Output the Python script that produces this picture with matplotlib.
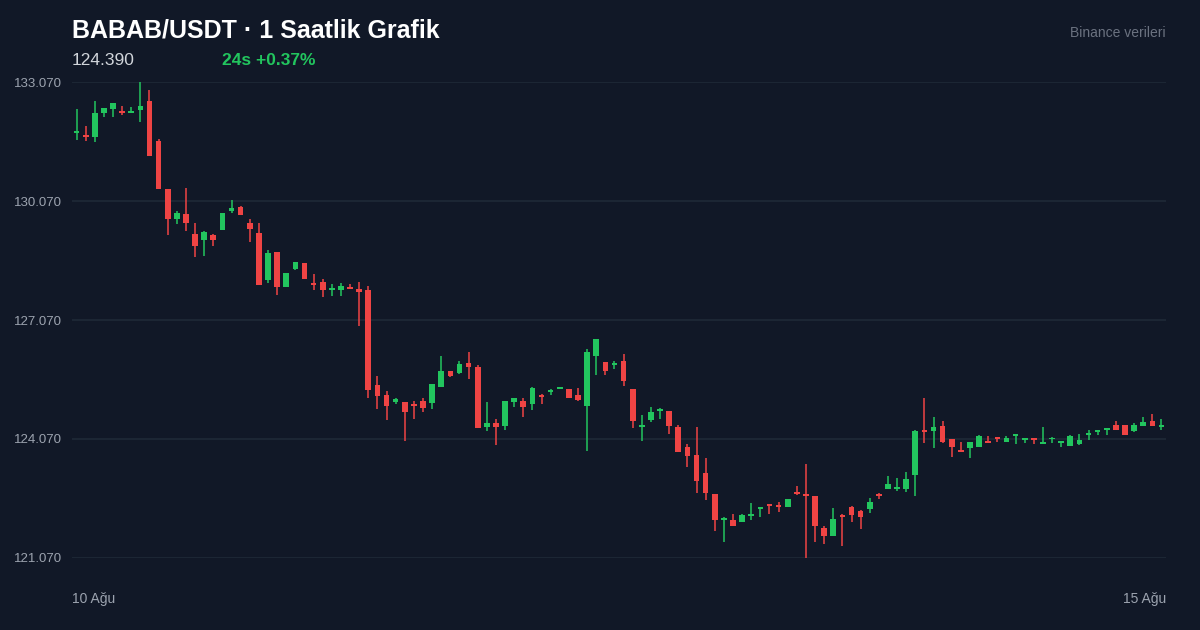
import numpy as np
import matplotlib.pyplot as plt

# hourly OHLC (120 candles, 10 -> 15 Aug)
opens = [131.78, 131.74, 131.68, 132.29, 132.40, 132.34, 132.30, 132.36, 132.59, 131.58,
         130.37, 129.61, 129.74, 129.23, 129.09, 129.21, 129.34, 129.83, 129.91, 129.52,
         129.27, 128.08, 128.78, 127.89, 128.35, 128.50, 128.01, 128.03, 127.83, 127.83,
         127.91, 127.85, 127.83, 125.42, 125.18, 125.00, 125.00, 124.95, 125.03, 124.99,
         125.39, 125.78, 125.74, 125.98, 125.89, 124.36, 124.47, 124.39, 125.00, 125.04,
         124.95, 125.17, 125.26, 125.33, 125.33, 125.18, 124.90, 126.15, 126.02, 125.94,
         126.03, 125.34, 124.36, 124.55, 124.78, 124.77, 124.38, 123.88, 123.66, 123.21,
         122.68, 122.04, 122.04, 121.99, 122.14, 122.31, 122.43, 122.41, 122.36, 122.72,
         122.68, 122.64, 121.83, 121.62, 122.16, 122.36, 122.26, 122.30, 122.68, 122.82,
         122.82, 122.82, 123.16, 124.30, 124.26, 124.39, 124.07, 123.79, 123.84, 123.86,
         124.02, 124.12, 124.00, 124.15, 124.05, 124.09, 123.95, 124.06, 123.98, 123.89,
         123.94, 124.18, 124.25, 124.30, 124.42, 124.42, 124.28, 124.40, 124.52, 124.37]
highs = [132.39, 131.97, 132.58, 132.42, 132.54, 132.47, 132.44, 133.07, 132.86, 131.64,
         130.37, 129.82, 130.40, 129.51, 129.31, 129.25, 129.78, 130.10, 129.94, 129.62,
         129.52, 128.83, 128.79, 128.26, 128.54, 128.50, 128.24, 128.10, 127.98, 128.00,
         127.98, 128.02, 127.93, 125.67, 125.28, 125.11, 125.00, 125.03, 125.11, 125.46,
         126.15, 125.78, 126.04, 126.26, 125.93, 125.01, 124.57, 125.03, 125.11, 125.11,
         125.37, 125.20, 125.33, 125.37, 125.34, 125.35, 126.34, 126.59, 126.02, 126.04,
         126.21, 125.34, 124.68, 124.87, 124.84, 124.77, 124.42, 123.94, 124.37, 123.59,
         122.68, 122.11, 122.18, 122.17, 122.46, 122.36, 122.43, 122.47, 122.55, 122.89,
         123.43, 122.64, 121.88, 122.33, 122.18, 122.37, 122.27, 122.58, 122.70, 123.13,
         123.08, 123.23, 124.29, 125.10, 124.62, 124.52, 124.08, 123.99, 123.99, 124.17,
         124.15, 124.12, 124.14, 124.20, 124.08, 124.09, 124.37, 124.11, 124.02, 124.16,
         124.20, 124.30, 124.30, 124.34, 124.52, 124.43, 124.47, 124.62, 124.70, 124.58]
lows = [131.61, 131.58, 131.56, 132.20, 132.20, 132.25, 132.28, 132.07, 131.21, 130.38,
        129.21, 129.48, 129.32, 128.66, 128.69, 128.94, 129.33, 129.78, 129.72, 129.04,
        127.96, 128.00, 127.69, 127.89, 128.32, 128.11, 127.83, 127.66, 127.68, 127.68,
        127.85, 126.92, 125.11, 124.83, 124.55, 124.95, 124.02, 124.58, 124.76, 124.83,
        125.39, 125.63, 125.72, 125.59, 124.34, 124.28, 123.92, 124.30, 124.87, 124.63,
        124.80, 124.95, 125.17, 125.32, 125.10, 125.02, 123.78, 125.68, 125.68, 125.84,
        125.41, 124.35, 124.01, 124.50, 124.57, 124.20, 123.75, 123.37, 122.71, 122.54,
        121.75, 121.47, 121.87, 121.98, 122.04, 122.10, 122.19, 122.24, 122.35, 122.67,
        121.07, 121.48, 121.42, 121.62, 121.37, 121.99, 121.80, 122.21, 122.56, 122.81,
        122.76, 122.73, 122.63, 123.97, 123.85, 123.98, 123.62, 123.74, 123.58, 123.86,
        123.98, 123.99, 124.00, 123.94, 123.96, 123.94, 123.94, 123.96, 123.87, 123.89,
        123.93, 124.05, 124.18, 124.18, 124.29, 124.17, 124.25, 124.39, 124.39, 124.30]
closes = [131.82, 131.68, 132.29, 132.41, 132.53, 132.30, 132.33, 132.47, 131.21, 130.38,
          129.61, 129.77, 129.51, 128.94, 129.29, 129.09, 129.78, 129.90, 129.72, 129.36,
          127.96, 128.77, 127.89, 128.26, 128.54, 128.11, 127.96, 127.83, 127.88, 127.93,
          127.86, 127.78, 125.31, 125.15, 124.91, 125.08, 124.74, 124.90, 124.85, 125.46,
          125.79, 125.66, 125.97, 125.89, 124.34, 124.48, 124.36, 125.03, 125.10, 124.88,
          125.36, 125.14, 125.31, 125.36, 125.10, 125.05, 126.26, 126.58, 125.79, 125.98,
          125.52, 124.52, 124.43, 124.75, 124.83, 124.40, 123.75, 123.65, 123.01, 122.70,
          122.04, 122.07, 121.88, 122.16, 122.19, 122.36, 122.39, 122.36, 122.55, 122.68,
          122.64, 121.88, 121.62, 122.05, 122.11, 122.15, 122.11, 122.48, 122.64, 122.94,
          122.87, 123.06, 124.28, 124.25, 124.37, 123.99, 123.88, 123.74, 123.99, 124.15,
          123.98, 124.08, 124.10, 124.20, 124.08, 124.05, 123.99, 124.10, 124.02, 124.15,
          124.05, 124.21, 124.30, 124.34, 124.30, 124.17, 124.42, 124.50, 124.40, 124.39]

date_labels = ['10 Ağu', '15 Ağu']
last_price = '124.390'
change_text = '24s +0.37%'

bg = '#111827'
up = '#22c55e'
down = '#ef4444'
grid_c = '#1f2937'
muted = '#9ca3af'

plt.rcParams['font.family'] = ['Liberation Sans', 'DejaVu Sans']

fig = plt.figure(figsize=(12, 6.3), dpi=100, facecolor=bg)
ax = fig.add_axes([0.06, 0.1143, 0.9117, 0.7555], facecolor=bg)

o = np.array(opens)
h = np.array(highs)
l = np.array(lows)
c = np.array(closes)
x = np.arange(len(o))
colors = np.where(c >= o, up, down)

ax.vlines(x, l, h, colors=colors, linewidth=1.1, zorder=2)
body_bottom = np.minimum(o, c)
body_h = np.maximum(np.abs(c - o), 0.045)
ax.bar(x, body_h, bottom=body_bottom, width=0.62, color=colors, linewidth=0, zorder=3)

ymin, ymax = l.min(), h.max()
ax.set_ylim(ymin, ymax)
ax.set_xlim(-0.5, len(o) - 0.5)
ticks = np.linspace(ymin, ymax, 5)
ax.set_yticks(ticks)
ax.set_yticklabels([f'{t:.3f}' for t in ticks])
ax.set_xticks([])
for t in ticks:
    ax.axhline(t, color=grid_c, linewidth=1.2, zorder=1)
ax.tick_params(axis='y', length=0, pad=7, labelsize=9.5, labelcolor=muted)
for s in ax.spines.values():
    s.set_visible(False)

ax.text(0, -0.086, date_labels[0], transform=ax.transAxes, ha='left', va='center',
        color=muted, fontsize=10)
ax.text(1, -0.086, date_labels[1], transform=ax.transAxes, ha='right', va='center',
        color=muted, fontsize=10)

fig.text(0.06, 0.952, 'BABAB/USDT · 1 Saatlik Grafik', color='white', fontsize=18,
         fontweight='bold', ha='left', va='center')
fig.text(0.06, 0.904, last_price, color='#d1d5db', fontsize=12.5, ha='left', va='center')
fig.text(0.185, 0.904, change_text, color=up, fontsize=12.5, fontweight='bold',
         ha='left', va='center')
fig.text(0.9717, 0.947, 'Binance verileri', color='#6b7280', fontsize=10,
         ha='right', va='center')

fig.savefig('out.png', dpi=100, facecolor=bg)
